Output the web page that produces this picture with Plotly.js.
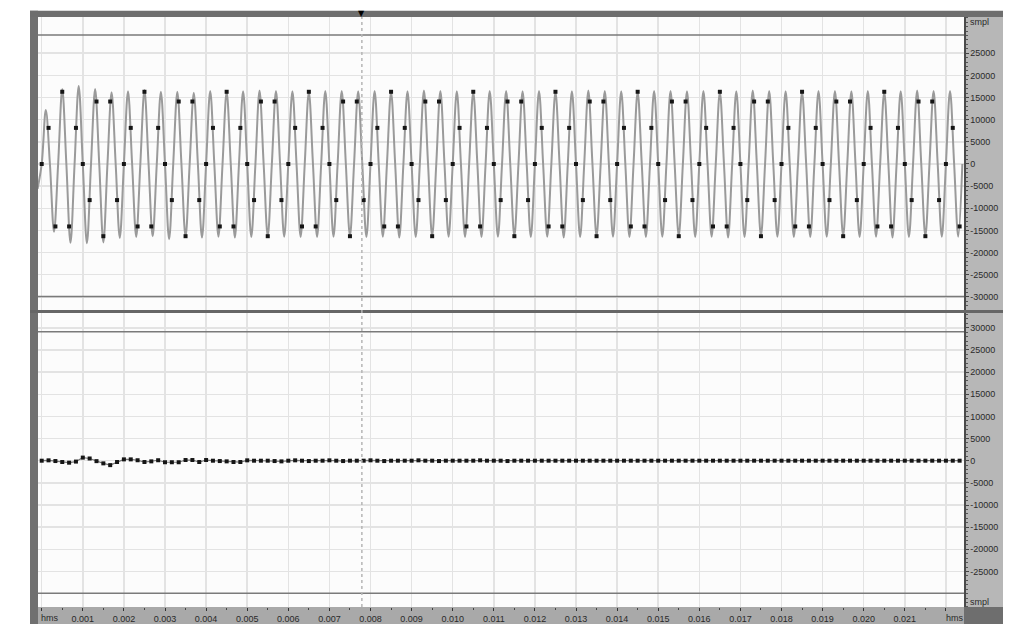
<!DOCTYPE html>
<html><head><meta charset="utf-8">
<script src="https://cdn.plot.ly/plotly-3.0.1.min.js"></script>
<style>html,body{margin:0;padding:0;background:#fff;overflow:hidden}#chart{width:1022px;height:624px}</style>
</head><body><div id="chart"></div>
<script>
// ---- data ----
const sampleStep = 1 / 6000;      // s between sample dots
const waveStart = -0.0001;        // s, first point of the grey trace
const waveStep = 0.0001;          // s between grey trace points

const sourceSamples = [
  0, 8150, -14100, 16300, -14100, 8150, 0, -8150, 14100, -16300, 14100, -8150,
  0, 8150, -14100, 16300, -14100, 8150, 0, -8150, 14100, -16300, 14100, -8150,
  0, 8150, -14100, 16300, -14100, 8150, 0, -8150, 14100, -16300, 14100, -8150,
  0, 8150, -14100, 16300, -14100, 8150, 0, -8150, 14100, -16300, 14100, -8150,
  0, 8150, -14100, 16300, -14100, 8150, 0, -8150, 14100, -16300, 14100, -8150,
  0, 8150, -14100, 16300, -14100, 8150, 0, -8150, 14100, -16300, 14100, -8150,
  0, 8150, -14100, 16300, -14100, 8150, 0, -8150, 14100, -16300, 14100, -8150,
  0, 8150, -14100, 16300, -14100, 8150, 0, -8150, 14100, -16300, 14100, -8150,
  0, 8150, -14100, 16300, -14100, 8150, 0, -8150, 14100, -16300, 14100, -8150,
  0, 8150, -14100, 16300, -14100, 8150, 0, -8150, 14100, -16300, 14100, -8150,
  0, 8150, -14100, 16300, -14100, 8150, 0, -8150, 14100, -16300, 14100, -8150,
  0, 8150, -14100
];

const sourceWave = [
  -5600, 0,
  12200, 0, -15300, 0, 16900, 0, -17800, 0, 17600, 0, -17900, 0, 16900, 0, -17700, 0, 16200, 0, -16700, 0,
  16400, 0, -16500, 0, 16700, 0, -16300, 0, 16300, 0, -17000, 0, 16300, 0, -16400, 0, 16100, 0, -16600, 0,
  16500, 0, -16400, 0, 16300, 0, -16600, 0, 16400, 0, -16500, 0, 16600, 0, -16300, 0, 16500, 0, -16400, 0,
  16400, 0, -16500, 0, 16300, 0, -16500, 0, 16500, 0, -16400, 0, 16500, 0, -16300, 0, 16400, 0, -16500, 0,
  16500, 0, -16400, 0, 16300, 0, -16600, 0, 16400, 0, -16500, 0, 16600, 0, -16300, 0, 16500, 0, -16400, 0,
  16400, 0, -16500, 0, 16300, 0, -16500, 0, 16500, 0, -16400, 0, 16500, 0, -16300, 0, 16400, 0, -16500, 0,
  16500, 0, -16400, 0, 16300, 0, -16600, 0, 16400, 0, -16500, 0, 16600, 0, -16300, 0, 16500, 0, -16400, 0,
  16400, 0, -16500, 0, 16300, 0, -16500, 0, 16500, 0, -16400, 0, 16500, 0, -16300, 0, 16400, 0, -16500, 0,
  16500, 0, -16400, 0, 16300, 0, -16600, 0, 16400, 0, -16500, 0, 16600, 0, -16300, 0, 16500, 0, -16400, 0,
  16400, 0, -16500, 0, 16300, 0, -16500, 0, 16500, 0, -16400, 0, 16500, 0, -16300, 0, 16400, 0, -16500, 0,
  16500, 0, -16400, 0, 16300, 0, -16600, 0, 16400, 0, -16500, 0, 16600, 0, -16300, 0, 16500, 0, -16400, 0,
  16500, 0, -16400, 0
];

const errorSamples = [
  0, 80, -80, -300, -450, -200, 700, 500, -100, -600, -1000, -300,
  300, 300, 100, -300, -150, 100, -350, -350, -350, 150, 150, -300,
  150, 0, -80, -150, -300, -300, 80, 0, 0, 0, -80, -150,
  0, 80, 0, -80, 0, 0, 80, 0, -80, 0, 0, 0,
  80, 0, -80, 0, 0, 0, 0, 80, 0, 0, -80, 0,
  0, 0, 0, 0, 80, 0, 0, 0, -80, 0, 0, 0,
  0, 0, 0, 0, 0, 0, 0, 0, 0, 0, 0, 0,
  0, 0, 0, 0, 0, 0, 0, 0, 0, 0, 0, 0,
  0, 0, 0, 0, 0, 0, 0, 0, 0, 0, 0, 0,
  0, 0, 0, 0, 0, 0, 0, 0, 0, 0, 0, 0,
  0, 0, 0, 0, 0, 0, 0, 0, 0, 0, 0, 0,
  0, 0, 0
];

const xTickVals = [0, 0.001, 0.002, 0.003, 0.004, 0.005, 0.006, 0.007, 0.008, 0.009, 0.010,
  0.011, 0.012, 0.013, 0.014, 0.015, 0.016, 0.017, 0.018, 0.019, 0.020, 0.021, 0.022];
const xTickText = ['', '0.001', '0.002', '0.003', '0.004', '0.005', '0.006', '0.007', '0.008', '0.009', '0.010',
  '0.011', '0.012', '0.013', '0.014', '0.015', '0.016', '0.017', '0.018', '0.019', '0.020', '0.021', ''];
const xUnitLabel = 'hms';
const yUnitLabel = 'smpl';

const topTickVals = [25000, 20000, 15000, 10000, 5000, 0, -5000, -10000, -15000, -20000, -25000, -30000];
const topTickText = ['25000', '20000', '15000', '10000', '5000', '0', '-5000', '-10000', '-15000', '-20000', '-25000', '-30000'];
const bottomTickVals = [30000, 25000, 20000, 15000, 10000, 5000, 0, -5000, -10000, -15000, -20000, -25000];
const bottomTickText = ['30000', '25000', '20000', '15000', '10000', '5000', '0', '-5000', '-10000', '-15000', '-20000', '-25000'];

const limitLevels = [29100, -29900];
const cursorTime = 0.00779;

// ---- pixel helpers for the frame ----
const L = 38, T = 17, W = 926, H = 590, B = T + H;
const px = v => (v - L) / W;
const py = v => (B - v) / H;

const tickFont = {family: 'Liberation Sans, Arial, sans-serif', size: 9, color: '#2a2a2a'};

const traces = [
  {x0: waveStart, dx: waveStep, y: sourceWave, type: 'scatter', mode: 'lines',
   line: {color: '#9a9a9a', width: 2, shape: 'spline'}, xaxis: 'x', yaxis: 'y', hoverinfo: 'skip'},
  {x0: 0, dx: sampleStep, y: sourceSamples, type: 'scatter', mode: 'markers',
   marker: {color: '#151515', size: 4, symbol: 'square'}, xaxis: 'x', yaxis: 'y'},
  {x0: 0, dx: sampleStep, y: errorSamples, type: 'scatter', mode: 'lines+markers',
   line: {color: '#777', width: 1.2}, marker: {color: '#151515', size: 4, symbol: 'square'},
   xaxis: 'x', yaxis: 'y2'}
];

function yAxis(domain, range, vals, text) {
  return {
    domain: domain, range: range, anchor: 'x', side: 'right',
    tickmode: 'array', tickvals: vals, ticktext: text,
    ticks: 'outside', ticklen: 3, tickcolor: '#444', tickfont: tickFont,
    showline: true, linecolor: '#4a4a4a', linewidth: 1.5,
    showgrid: true, gridcolor: '#e3e3e3', gridwidth: 1.5, zeroline: false,
    minor: {tickmode: 'linear', tick0: 0, dtick: 1000, ticks: 'outside', ticklen: 2, tickcolor: '#555', showgrid: false},
    fixedrange: true
  };
}

const shapes = [
  // frame pieces
  {type: 'rect', xref: 'paper', yref: 'paper', x0: px(30), x1: px(38), y0: py(624), y1: py(10.7), fillcolor: '#707070', line: {width: 0}, layer: 'below'},
  {type: 'rect', xref: 'paper', yref: 'paper', x0: px(30), x1: px(1003), y0: py(17), y1: py(10.7), fillcolor: '#6e6e6e', line: {width: 0}, layer: 'below'},
  {type: 'rect', xref: 'paper', yref: 'paper', x0: px(964), x1: px(1003), y0: py(607), y1: py(17), fillcolor: '#b7b7b7', line: {width: 0}, layer: 'below'},
  {type: 'rect', xref: 'paper', yref: 'paper', x0: px(38), x1: px(964), y0: py(624), y1: py(607), fillcolor: '#a9a9a9', line: {width: 0}, layer: 'below'},
  {type: 'rect', xref: 'paper', yref: 'paper', x0: px(964), x1: px(1003), y0: py(624), y1: py(607), fillcolor: '#6e6e6e', line: {width: 0}, layer: 'below'},
  {type: 'rect', xref: 'paper', yref: 'paper', x0: px(30), x1: px(1003), y0: py(313), y1: py(310), fillcolor: '#666', line: {width: 0}, layer: 'below'}
];
limitLevels.forEach(v => {
  shapes.push({type: 'line', xref: 'x domain', yref: 'y', x0: 0, x1: 1, y0: v, y1: v, line: {color: '#7a7a7a', width: 1.5}});
  shapes.push({type: 'line', xref: 'x domain', yref: 'y2', x0: 0, x1: 1, y0: v, y1: v, line: {color: '#7a7a7a', width: 1.5}});
});
shapes.push({type: 'line', xref: 'x', yref: 'paper', x0: cursorTime, x1: cursorTime, y0: py(607), y1: py(17),
  line: {color: '#b5b5b5', width: 1.5, dash: 'dot'}, layer: 'above'});

const annotations = [
  {xref: 'paper', yref: 'paper', x: px(968), y: py(22), xanchor: 'left', yanchor: 'middle', text: yUnitLabel, showarrow: false, font: tickFont},
  {xref: 'paper', yref: 'paper', x: px(968), y: py(602), xanchor: 'left', yanchor: 'middle', text: yUnitLabel, showarrow: false, font: tickFont},
  {xref: 'paper', yref: 'paper', x: px(39), y: py(618), xanchor: 'left', yanchor: 'middle', text: xUnitLabel, showarrow: false, font: tickFont},
  {xref: 'paper', yref: 'paper', x: px(944), y: py(618), xanchor: 'left', yanchor: 'middle', text: xUnitLabel, showarrow: false, font: tickFont},
  {xref: 'x', yref: 'paper', x: cursorTime, y: py(14), xanchor: 'center', yanchor: 'middle', text: '\u25BC', showarrow: false,
   font: {family: 'DejaVu Sans, sans-serif', size: 8, color: '#000'}}
];

const layout = {
  width: 1022, height: 624,
  margin: {l: L, r: 1022 - L - W, t: T, b: 624 - B, pad: 0},
  paper_bgcolor: '#ffffff', plot_bgcolor: '#fcfcfc',
  showlegend: false,
  xaxis: {
    domain: [0, 1], range: [-0.00009, 0.02244], anchor: 'y2',
    tickmode: 'array', tickvals: xTickVals, ticktext: xTickText,
    ticks: 'outside', ticklen: 3, tickcolor: '#333', tickfont: tickFont,
    showgrid: true, gridcolor: '#e3e3e3', gridwidth: 1.5, zeroline: false, showline: false,
    minor: {tickmode: 'linear', tick0: 0.0005, dtick: 0.001, ticks: 'outside', ticklen: 2, tickcolor: '#444', showgrid: false},
    fixedrange: true
  },
  yaxis: yAxis([py(310), 1], [-32960, 33180], topTickVals, topTickText),
  yaxis2: yAxis([0, py(313)], [-33025, 33340], bottomTickVals, bottomTickText),
  shapes: shapes,
  annotations: annotations
};

Plotly.newPlot('chart', traces, layout, {displayModeBar: false, staticPlot: true});
</script>
</body></html>
